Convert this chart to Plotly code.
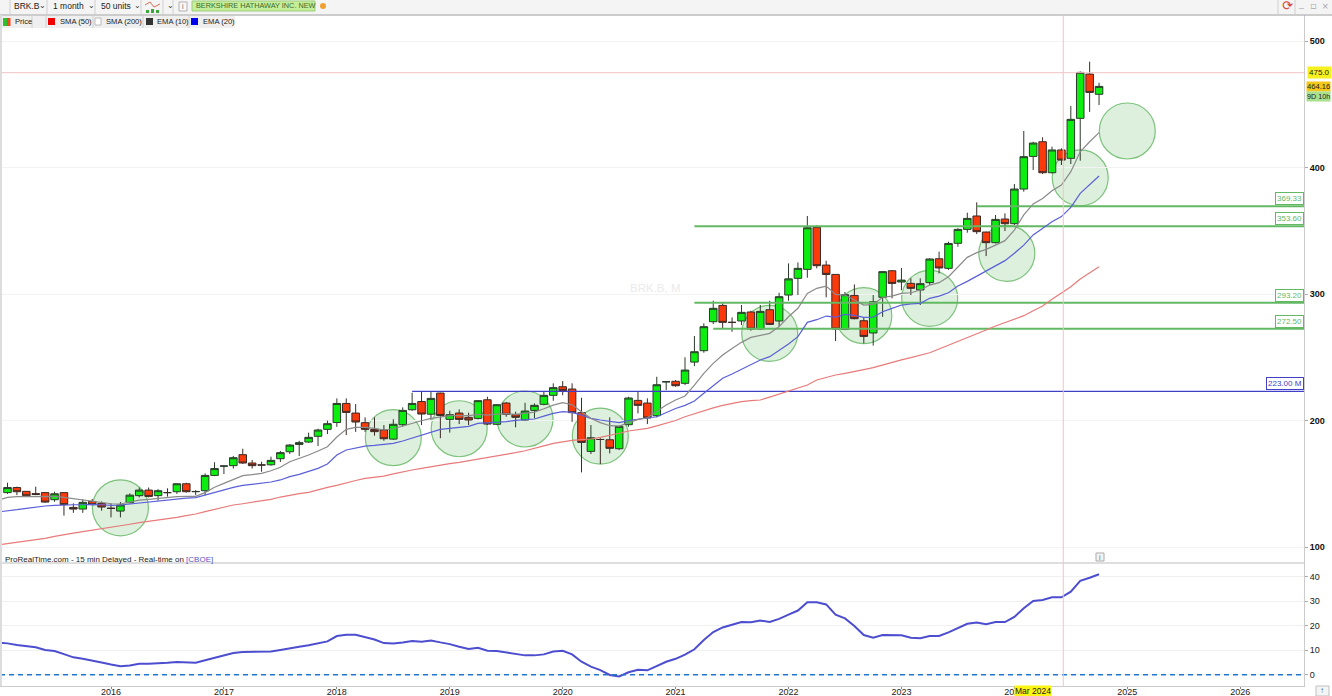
import plotly.graph_objects as go

W, H = 1332, 696

OPEN = [143,147,144,142.2,143,137.4,143,131.3,130,136,134.5,130.7,128.4,135,140.6,145,140.6,143,143.7,150,143.7,144.5,156.6,164,164.3,173,166.4,164.9,165,169.8,175.3,181.1,183,187.5,193,198.4,213.5,205.9,198.3,193,192.5,185.3,196.7,208.5,215,205,221.7,200.9,205.9,202.5,201.7,216.4,197,213.8,204.6,200.4,208,212.8,219.9,226.7,224.9,206.2,175.6,185,184.8,177.7,196.7,215.9,213.8,203.8,230.5,231,229.4,246.2,255.2,278.1,291,277.6,278.7,285.8,272.3,287.6,278.7,299.2,312.4,319.5,352.7,322.9,315.5,272,298.9,278.9,269.2,297.4,318.4,309.5,308.4,303.2,309,327.9,320.3,340.1,351.1,361.7,349,340.6,359.3,355.6,383,408.8,420.4,395.9,413.9,407.3,438.9,473.9,457.9]
HIGH = [150.8,147.7,144,147.7,143.5,143.7,143,134.5,137.7,138,136,134.5,135.6,142.4,147,147,145.8,146.4,150.3,150.8,145,158.2,167,164.5,172,177.7,168.8,167.4,171.4,175.9,181.4,184,190.4,193.5,199.9,217.5,217.5,213,202.5,202.5,196.4,201,210.4,222,222.8,222.8,222,207.7,208.8,206.2,216.2,218.8,213,214.6,207,214,213.5,222.8,229.4,231.2,229.4,218,196.4,186,202.5,195.6,218.8,222.8,217.5,234.6,231,232,250,266.8,276.8,294.7,292.6,281.5,291.3,286.8,291.3,294.7,301,324.2,325,361.7,354.3,326.3,315.5,301.6,307.6,281.5,299.2,318.2,319,320.6,312.4,312.4,328.2,333.5,341.4,352,364.3,372.5,349.3,362.5,363.8,387,428.9,420.4,423.9,416.5,415.2,448.6,476,483.7,467]
LOW = [142,141,139.8,141,135,135.8,124.8,127,127,133,128.7,123.4,123.4,134.5,139.2,139.2,136.6,139.8,142,143,141,141,156,157.7,162,165.6,162,159.5,164.3,167.2,173.5,172,182.5,179.8,189.3,195,188.5,191,191,188,184,184.6,195,207.7,196.4,200.4,186,190.4,197.2,196.4,200.9,196.4,196.4,203,194.6,200,201.7,212,215.6,220,199,159,173.5,165.6,174,176.6,195,205.6,197.2,202.5,224,226.7,228,243,253.6,276.3,272.9,270.2,275.5,271,271.5,275.5,274.2,294.7,299.2,312.9,320.3,297.4,262.8,271.5,280,261,259.2,282,296.6,303,299.2,291.3,307.1,316.3,319,337.4,348.5,347.4,330,340,349.8,354.6,380.9,398,394.9,395.4,402,402.8,405.4,444,449.4]
CLOSE = [147,143.7,140.5,141.6,135.5,142.1,133.5,130,135.3,133.5,131.6,130.5,133.2,141,145,140,144.5,143,150,143.7,143.9,156.6,162,164,170.6,166.4,164.3,164.8,168.5,174.6,180.6,182.5,186.7,192.5,197.5,213.5,206.4,198.8,193,191.2,185.6,197,208,213.5,205.1,217.5,204,204.6,200.9,200.4,215.7,197.2,212.5,204.9,202.5,207.5,212,219.9,226,223.6,206.2,182.7,186.4,185,178,195.4,217.8,212,202,228.3,230.7,227.5,239.9,254.4,274.2,288.7,277.6,277.6,285.5,272.3,286.3,276,297.9,312,320.3,352.4,322.4,315.5,272.3,299.5,280.5,266.5,293.9,317.7,308.4,311,304.5,308.2,327.7,320.6,340,351.1,359.8,349.3,340.6,359,355.6,383,408.6,419.4,395.9,413.9,405.9,438.1,475.2,459.4,464.16]

# Moving averages start one month left of the first full candle
EMA10 = [137.1,139.2,139.8,140,140,139.8,140,139.2,138.2,137.1,136.1,135,134.2,134,135.8,137.1,137.7,138.5,139.2,139.8,140,140,143,147.2,150.3,153.5,156.4,157.2,158.2,160.3,163,167.4,170,172.7,175.9,179.3,187,193,194.6,194.6,193.8,192.5,193.5,195.6,198.3,199.8,201.7,203,203.8,203.8,203.8,204.9,204.3,205.1,205.4,204.9,205.6,206.7,209.3,212.2,214.1,212.5,207,201.7,198.3,195.9,195.6,198.3,200.9,202.2,207,212.2,216.2,219.4,228,237.3,245.2,251.8,257,261.8,265.7,267.6,268.9,274.2,282,288.7,300.5,304.5,306.3,299.7,299.2,295.3,291.3,291.8,297.4,298.4,300.5,301,303.2,307.1,309,313.7,321.6,329,332.7,335.3,338.7,342.2,350.6,362.5,371.2,375.6,381.7,386.2,396.7,412.5,420.4,427.6]
EMA20 = [127.7,128.4,129.5,130.6,131.6,132.4,132.9,133.4,133.4,133.4,133.7,133.4,132.9,133.2,134,135,135.6,136.3,137.1,137.9,138.7,139,141.1,142.9,145,147.2,148.7,149.5,150.3,151.4,153,155.6,157.4,159.5,162.2,165.6,172.7,176.7,178.2,179.8,180.3,181.1,181.9,183.8,186.1,188.5,190.9,193,193.8,194.6,195.4,197.7,198,198.3,199.1,200.1,200.6,201.2,203.5,205.6,207,206.4,204.3,201.7,200.4,199.1,198.3,199.9,201.2,202,203,206.4,209.5,212,215.4,221.5,227.6,233.4,236.8,240.7,244.4,247.9,250.5,255.2,260.5,266.3,277.6,279.7,282.6,281.8,283.9,283.1,281.6,281.8,286,288.7,291.3,292.1,292.6,296.6,298.4,301,306.3,310,314.2,318.5,322.2,326.4,332.2,338.7,346.7,351.9,357.2,361.2,368.5,379.6,386.7,393.3]
SMA50 = [101.6,102.6,103.8,105,106,106.8,108.4,110,111,112.1,113.2,114.2,115.6,116.9,118,119.2,120.2,121.3,122.4,123.4,124.8,126.1,128,129.8,131.5,133.2,134.2,135.3,136.5,137.7,139.5,141.1,142.2,143.2,145.3,147.2,148.7,150.8,152.6,154.3,155.2,156.1,157.8,159.5,160.9,162.2,163.6,164.8,165.9,166.9,168.1,169.3,170.6,171.9,173.2,174.6,176.1,177.7,179.9,181.9,183.2,184.3,184.9,185.4,186.7,188,189.9,191.7,192.7,193.8,195.8,197.7,200,203,205.5,208,210,212,213.5,215,215.7,216.2,218.5,221,223,225.5,228.1,232,234,236,237.3,238.6,240.2,241.8,244,246.2,248,249.7,251.6,253.6,256.5,259.5,262.6,265,268.4,271.6,274.7,277.4,280,282.9,286.8,290.5,295.8,301,305.8,311.9,316.4,321.6]
INDICATOR = [13.1,12.8,12.1,11.7,11.2,10.1,9.7,8.4,7.1,6.5,5.9,5,4.2,3.5,3.8,4.5,4.5,4.6,4.9,5.2,5.2,4.9,5.9,6.9,7.8,8.9,9.3,9.3,9.3,9.5,10.1,10.6,11.4,12,12.7,13.6,15.8,16.3,16.3,15.5,14.4,12.9,12.7,13.2,13.8,13.5,14,13.2,12.5,11.4,10.5,11,9.8,9.7,9.1,8.3,7.9,7.9,8.3,9.5,9.8,8.3,5.3,3.3,1.9,-0.1,-0.7,1,2,1.8,3.7,5.3,6.5,8.2,10.4,14.2,17.4,19.3,20.4,21.5,21.4,22.1,21.5,22.8,24.5,26.2,29.6,29.6,28.7,24.5,23,19.9,16.2,15.1,16.2,16.2,16.1,15.1,14.9,15.8,15.8,17.3,19.1,20.8,21.3,20.6,21.5,21.5,23.6,27.1,30.1,30.5,31.6,31.6,33.9,38.3,39.6,41]

CANDLE_IDX = list(range(len(OPEN)))
LINE_IDX = list(range(-1, len(OPEN)))

CIRCLE_IDX = [12, 41, 48, 55, 63, 81, 91, 98, 106.2, 114, 119]
CIRCLE_PRICE = [131, 186.4, 193.5, 201.2, 187.7, 268.9, 282.9, 296.6, 332.2, 391.9, 428.9]
CIRCLE_DIAM_PX = 56

GREEN_LEVELS = [369.33, 353.60, 293.20, 272.50]
GREEN_START = [103, 73, 73, 75]
GREEN_LABELS = ["369.33", "353.60", "293.20", "272.50"]
BLUE_LEVEL = 223.0
BLUE_START = 43
BLUE_LABEL = "223.00 M"
LAST_PRICE = 464.16
CROSS_PRICE = 475.0
CROSS_IDX = 112.2
HOVER_IDX = 109

YEAR_TICKS = [11, 23, 35, 47, 59, 71, 83, 95, 107, 119, 131]
YEAR_LABELS = ["2016", "2017", "2018", "2019", "2020", "2021", "2022", "2023", "2024", "2025", "2026"]
PRICE_TICKS = [100, 200, 300, 400, 500]
IND_TICKS = [0, 10, 20, 30, 40]

FONT = "Liberation Sans, Arial, sans-serif"
XRANGE = [-0.797, 137.78]


def px(x):
    return x / W


def py(y):
    return 1 - y / H


fig = go.Figure()

for lv, st in zip(GREEN_LEVELS, GREEN_START):
    fig.add_trace(go.Scatter(x=[st, XRANGE[1]], y=[lv, lv], mode="lines", hoverinfo="skip",
                             line=dict(color="#63b863", width=2), xaxis="x", yaxis="y"))
fig.add_trace(go.Scatter(x=[BLUE_START, XRANGE[1]], y=[BLUE_LEVEL, BLUE_LEVEL], mode="lines", hoverinfo="skip",
                         line=dict(color="#4040c8", width=1.3), xaxis="x", yaxis="y"))
fig.add_trace(go.Scatter(x=XRANGE, y=[CROSS_PRICE, CROSS_PRICE], mode="lines", hoverinfo="skip",
                         line=dict(color="#f2c4c4", width=1), xaxis="x", yaxis="y"))

fig.add_trace(go.Candlestick(
    x=CANDLE_IDX, open=OPEN, high=HIGH, low=LOW, close=CLOSE, xaxis="x", yaxis="y",
    increasing=dict(fillcolor="#0cee10", line=dict(color="#2b3a2b", width=1)),
    decreasing=dict(fillcolor="#fb3a0c", line=dict(color="#3a2b26", width=1)),
    whiskerwidth=0,
))

fig.add_trace(go.Scatter(x=LINE_IDX, y=SMA50, mode="lines", line=dict(color="#e87a7a", width=1.2), xaxis="x", yaxis="y"))
fig.add_trace(go.Scatter(x=LINE_IDX, y=EMA20, mode="lines", line=dict(color="#5a5fd8", width=1.2), xaxis="x", yaxis="y"))
fig.add_trace(go.Scatter(x=LINE_IDX, y=EMA10, mode="lines", line=dict(color="#8a8a8a", width=1.2), xaxis="x", yaxis="y"))

fig.add_trace(go.Scatter(x=LINE_IDX, y=INDICATOR, mode="lines", line=dict(color="#4d4dcf", width=2), xaxis="x", yaxis="y2"))
fig.add_trace(go.Scatter(x=XRANGE, y=[0, 0], mode="lines", line=dict(color="#2477cf", width=1.6, dash="5px,4px"), xaxis="x", yaxis="y2"))


def box(x0, x1, y0, y1, fill, line=None, layer="above"):
    d = dict(type="rect", xref="paper", yref="paper", x0=px(x0), x1=px(x1), y0=py(y1), y1=py(y0), fillcolor=fill, layer=layer)
    d["line"] = dict(color=line, width=1) if line else dict(width=0)
    return d


def vline(x, y0, y1, color="#d0d0d0"):
    return dict(type="line", xref="paper", yref="paper", x0=px(x), x1=px(x), y0=py(y1), y1=py(y0), line=dict(color=color, width=1))


shapes = [
    box(0, W, 0, 14, "#f4f4f4", layer="below"),
    dict(type="line", xref="paper", yref="paper", x0=0, x1=1, y0=py(15), y1=py(15), line=dict(color="#999", width=1)),
    box(0, 235, 16, 28, "#efefef", layer="below"),
    box(0, 2, 15, 686, "#dcdcdc"),
    box(192, 315, 1, 11, "#c4ee9a", "#9ccc78"),
    dict(type="line", xref="paper", yref="paper", x0=px(2), x1=px(1304), y0=py(563), y1=py(563), line=dict(color="#bdbdbd", width=1)),
    dict(type="line", xref="x", yref="paper", x0=CROSS_IDX, x1=CROSS_IDX, y0=py(686), y1=py(15), line=dict(color="#f2c4c4", width=1)),
    box(1096, 1104, 553, 561, "#f4f4f4", "#aaa"),
    box(3, 7, 18, 26, "#2fbf2f"),
    box(7, 10.5, 18, 26, "#f04a20"),
    box(48, 55, 18, 25, "#f00000"),
    box(95, 101, 18, 25, "#ffffff", "#bbb"),
    box(146, 153, 18, 25, "#333333"),
    box(191, 198, 18, 25, "#0000ee"),
    # toolbar separators and icons
    vline(10, 0, 14), vline(47, 0, 14), vline(95, 0, 14), vline(141, 0, 14), vline(163, 0, 14), vline(173, 0, 14),
    vline(1278, 0, 14), vline(1295, 0, 14),
    vline(32, 16, 28), vline(46, 16, 28), vline(93, 16, 28), vline(143, 16, 28), vline(189, 16, 28),
    box(179, 187, 2, 11, "#f8f8f8", "#b0b0b0"),
    box(146, 149, 10, 13, "#3ca83c"), box(151, 154, 9, 13, "#3ca83c"), box(156, 159, 10, 13, "#3ca83c"),
    dict(type="path", xref="paper", yref="paper",
         path=f"M {px(145)} {py(5)} L {px(150)} {py(2)} L {px(154)} {py(7)} L {px(160)} {py(4)}",
         line=dict(color="#e06a50", width=1)),
    box(1316, 1329, 686, 696, "#f4f4f4", "#c0c0c0"),
    dict(type="circle", xref="paper", yref="paper", x0=px(320), x1=px(326), y0=py(9), y1=py(3), fillcolor="#f0a030", line_width=0),
]

# Green circles: anchored on the price scale, fixed size in pixels, under the candles
for cx, cy in zip(CIRCLE_IDX, CIRCLE_PRICE):
    shapes.append(dict(
        type="circle", layer="below", xref="x", yref="y", xsizemode="pixel", ysizemode="pixel",
        xanchor=cx, yanchor=cy, x0=-CIRCLE_DIAM_PX / 2, x1=CIRCLE_DIAM_PX / 2, y0=-CIRCLE_DIAM_PX / 2, y1=CIRCLE_DIAM_PX / 2,
        fillcolor="rgba(120,195,120,0.25)", line=dict(color="rgba(105,185,105,0.85)", width=1.2),
    ))

anns = []


def text(x, y, t, size=9, color="#222", anchor="left", family=FONT, **kw):
    anns.append(dict(xref="paper", yref="paper", x=px(x), y=py(y), text=t, showarrow=False,
                     xanchor=anchor, yanchor="middle", font=dict(size=size, color=color, family=family), **kw))


text(12, 6, "BRK.B", 8.5, "#222")
text(37, 6, "\u2304", 8, "#333")
text(51, 6, "1 month", 8.5, "#222")
text(86, 6, "\u2304", 8, "#333")
text(99, 6, "50 units", 8.5, "#222")
text(132, 6, "\u2304", 8, "#333")
text(165, 6, "\u2304", 8, "#333")
text(183, 6.5, "i", 7, "#666", anchor="center")
text(194, 6, "BERKSHIRE HATHAWAY INC. NEW", 7.3, "#3c6a2a")
text(1287, 6, "\u27f3", 13, "#d8402a", anchor="center", family="DejaVu Sans")
text(1301, 8, "\u2013", 9, "#aaa", anchor="center")
text(1313, 6, "\u25ab", 10, "#aaa", anchor="center", family="DejaVu Sans")
text(1325, 6, "\u00d7", 11, "#aaa", anchor="center")
text(13, 21.5, "Price", 7.6)
text(58, 21.5, "SMA (50)", 7.6)
text(104, 21.5, "SMA (200)", 7.6)
text(155, 21.5, "EMA (10)", 7.6)
text(201, 21.5, "EMA (20)", 7.6)
text(3, 559, "ProRealTime.com - 15 min Delayed - Real-time on <span style='color:#5555cc'>[CBOE]</span>", 8)
text(628, 288, "BRK.B, M", 11.5, "#ebebeb")
text(1100, 557, "i", 7, "#666", anchor="center")
text(1322, 690.5, "\u2191", 8, "#2a62b8", anchor="center")

for lbl, lv in zip(GREEN_LABELS, GREEN_LEVELS):
    anns.append(dict(xref="paper", yref="y", x=px(1303.5), y=lv, text=lbl, showarrow=False, xanchor="right", yanchor="bottom",
                     yshift=1, font=dict(size=8, color="#63b863", family=FONT), bgcolor="white",
                     bordercolor="#63b863", borderwidth=1, borderpad=1))
anns.append(dict(xref="paper", yref="y", x=px(1303.5), y=BLUE_LEVEL, text=BLUE_LABEL, showarrow=False, xanchor="right", yanchor="bottom",
                 yshift=1, font=dict(size=8, color="#4040c8", family=FONT), bgcolor="white",
                 bordercolor="#4040c8", borderwidth=1, borderpad=1))
anns.append(dict(xref="paper", yref="y", x=px(1307), y=CROSS_PRICE, text="475.0", showarrow=False, xanchor="left", yanchor="middle",
                 font=dict(size=8, color="#222", family=FONT), bgcolor="#f7f020", borderpad=1))
anns.append(dict(xref="paper", yref="y", x=px(1306), y=LAST_PRICE, text="464.16", showarrow=False, xanchor="left", yanchor="middle",
                 font=dict(size=7.6, color="#222", family=FONT), bgcolor="#f4c818", borderpad=0))
anns.append(dict(xref="paper", yref="y", x=px(1306), y=LAST_PRICE, yshift=-10, text="9D 10h", showarrow=False, xanchor="left", yanchor="middle",
                 font=dict(size=7.2, color="#222", family=FONT), bgcolor="#a8e090", borderpad=0))
anns.append(dict(xref="x", yref="paper", x=HOVER_IDX, y=py(691), text="Mar 2024", showarrow=False, xanchor="center", yanchor="middle",
                 font=dict(size=8.5, color="#222", family=FONT), bgcolor="#fbf514", borderpad=0))

fig.update_layout(
    width=W, height=H, margin=dict(l=0, r=0, t=0, b=0), autosize=False,
    paper_bgcolor="white", plot_bgcolor="white", showlegend=False, boxgap=0.2, boxgroupgap=0,
    shapes=shapes, annotations=anns, hovermode=False,
    xaxis=dict(domain=[0, px(1304)], range=XRANGE, anchor="y2", tickvals=YEAR_TICKS, ticktext=YEAR_LABELS, automargin=False,
               showgrid=False, zeroline=False, ticks="outside", ticklen=2, tickcolor="#888", ticklabelstandoff=-5,
               tickfont=dict(size=9, color="#222", family=FONT), showline=True, linecolor="#ccc",
               rangeslider=dict(visible=False)),
    yaxis=dict(domain=[py(563), py(15)], range=[87.35, 520.6], side="right", anchor="x", tickvals=PRICE_TICKS, automargin=False,
               showgrid=True, gridcolor="#f3f3f3", zeroline=False, ticks="outside", ticklen=3, tickcolor="#aaa",
               showline=True, linecolor="#ccc", tickfont=dict(size=9, color="#111", family=FONT, weight=700)),
    yaxis2=dict(domain=[py(686), py(563)], range=[-4.6, 45.6], side="right", anchor="x", tickvals=IND_TICKS, automargin=False,
                showgrid=True, gridcolor="#f0f0f0", zeroline=False, ticks="outside", ticklen=3, tickcolor="#aaa",
                showline=True, linecolor="#ccc", tickfont=dict(size=9, color="#222", family=FONT)),
)

fig.write_html("out.html", config=dict(displayModeBar=False),
               post_script="document.body.style.margin='0';document.documentElement.style.overflow='hidden';")
